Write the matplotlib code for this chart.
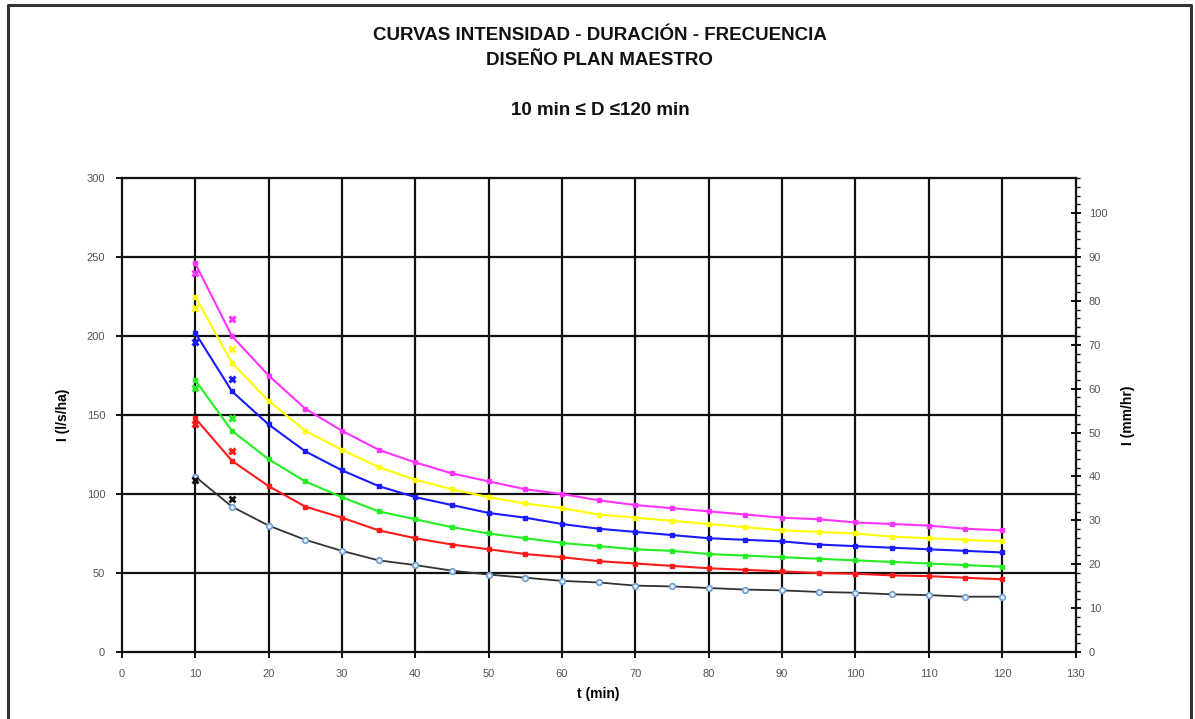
import numpy as np
import matplotlib.pyplot as plt
from matplotlib.ticker import MultipleLocator

plt.rcParams['font.family'] = ['Liberation Sans', 'DejaVu Sans']

# ── Data: durations and fitted IDF curves (l/s/ha) ─────────────────
t_min = [10, 15, 20, 25, 30, 35, 40, 45, 50, 55, 60, 65, 70, 75, 80, 85,
         90, 95, 100, 105, 110, 115, 120]

i_magenta = [246, 200, 175, 154, 140, 128, 120, 113, 108, 103, 100, 96, 93,
             91, 89, 87, 85, 84, 82, 81, 80, 78, 77]
i_yellow = [225, 183, 159, 140, 128, 117, 109, 103, 98, 94, 91, 87, 85,
            83, 81, 79, 77, 76, 75, 73, 72, 71, 70]
i_blue = [202, 165, 144, 127, 115, 105, 98, 93, 88, 85, 81, 78, 76,
          74, 72, 71, 70, 68, 67, 66, 65, 64, 63]
i_green = [172, 140, 122, 108, 98, 89, 84, 79, 75, 72, 69, 67, 65,
           64, 62, 61, 60, 59, 58, 57, 56, 55, 54]
i_red = [148, 121, 105, 92, 85, 77, 72, 68, 65, 62, 60, 57.5, 56,
         54.5, 53, 52, 51, 50, 49.5, 48.5, 48, 47, 46]
i_black = [111, 92, 80, 71, 64, 58, 55, 51.5, 49, 47, 45, 44, 42,
           41.5, 40.5, 39.5, 39, 38, 37.5, 36.5, 36, 35, 35]

# observed points that differ from the fitted curves (10 and 15 min)
t_obs = [10, 15]
obs_magenta = [240, 211]
obs_yellow = [218, 192]
obs_blue = [196, 173]
obs_green = [167, 148]
obs_red = [144, 127]
obs_black = [109, 97]

series = [
    (i_magenta, obs_magenta, '#ff33ff'),
    (i_yellow, obs_yellow, '#ffff00'),
    (i_blue, obs_blue, '#1a1aff'),
    (i_green, obs_green, '#22ee22'),
    (i_red, obs_red, '#ff1a1a'),
]

fig = plt.figure(figsize=(11.95, 7.19), dpi=100)
ax = fig.add_axes([0.102, 0.0932, 0.798, 0.6592])

# grid
for gx in range(10, 130, 10):
    ax.axvline(gx, color='#111111', lw=1.6, zorder=1)
for gy in range(50, 300, 50):
    ax.axhline(gy, color='#111111', lw=1.6, zorder=1)

for fit, obs, col in series:
    ax.plot(t_min, fit, color=col, lw=1.5, marker='s', ms=3.5, zorder=3)
    ax.plot(t_obs, obs, ls='none', marker='x', ms=4, mew=2.2, color=col, zorder=4)

ax.plot(t_min, i_black, color='#333333', lw=1.3, marker='o', ms=4,
        mfc='#e8f0fa', mec='#6d9fd2', mew=1.2, zorder=3)
ax.plot(t_obs, obs_black, ls='none', marker='x', ms=4, mew=2, color='#111111', zorder=4)

ax.set_xlim(0, 130)
ax.set_ylim(0, 300)
ax.xaxis.set_major_locator(MultipleLocator(10))
ax.yaxis.set_major_locator(MultipleLocator(50))
for s in ax.spines.values():
    s.set_linewidth(1.6)
    s.set_color('#111111')
ax.tick_params(axis='both', direction='out', length=4, width=1.4,
               labelsize=8, labelcolor='#555555', color='#111111', pad=8)
ax.set_xlabel('t (min)', fontsize=10, fontweight='bold', labelpad=6)
ax.set_ylabel('I (l/s/ha)', fontsize=10, fontweight='bold', labelpad=12)

# secondary axis in mm/hr
ax2 = ax.twinx()
ax2.set_ylim(0, 300 * 0.36)
ax2.yaxis.set_major_locator(MultipleLocator(10))
ax2.yaxis.set_minor_locator(MultipleLocator(2))
ax2.tick_params(axis='y', which='major', direction='inout', length=7, width=1.4,
                labelsize=8, labelcolor='#555555', color='#111111', pad=6)
ax2.tick_params(axis='y', which='minor', direction='out', length=3, width=1.0,
                color='#111111')
for s in ax2.spines.values():
    s.set_visible(False)
ax2.set_ylabel('I (mm/hr)', fontsize=10, fontweight='bold', labelpad=10)

# titles
title_kw = dict(ha='center', va='center', fontsize=13.5, fontweight='bold', color='#111111')
fig.text(0.502, 0.951, 'CURVAS INTENSIDAD - DURACIÓN - FRECUENCIA', **title_kw)
fig.text(0.502, 0.916, 'DISEÑO PLAN MAESTRO', **title_kw)
fig.text(0.502, 0.847, '10 min ≤ D ≤120 min', **title_kw)

# page frame
fig.add_artist(plt.Line2D([0.007, 0.007, 0.997, 0.997], [-0.1, 0.993, 0.993, -0.1],
                          transform=fig.transFigure, color='#333333', lw=2.2))

fig.savefig('out.png', dpi=100)
